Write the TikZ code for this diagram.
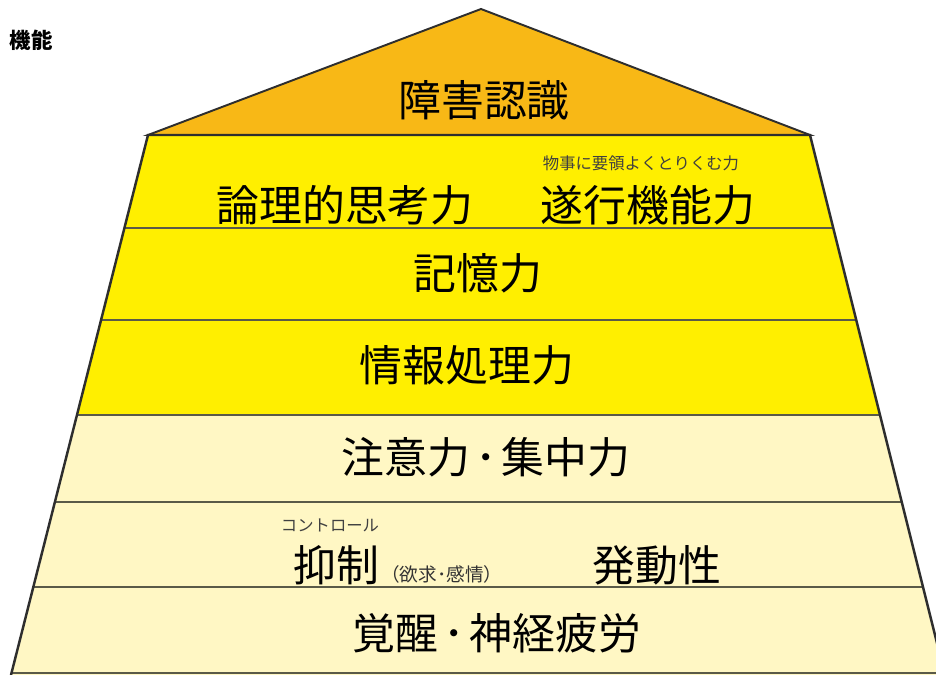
\documentclass[tikz,border=0pt]{standalone}
\usepackage{fontspec}
\setmainfont{Noto Sans CJK JP}
\usetikzlibrary{positioning}
\definecolor{roofcol}{HTML}{F8B816}
\definecolor{highcol}{HTML}{FFEF00}
\definecolor{lowcol}{HTML}{FFF7C4}
\definecolor{edgecol}{HTML}{2E2E2E}
\definecolor{linecol}{HTML}{5A5A48}
\newcommand{\middot}{\hspace{0.12em}･\hspace{0.12em}}
\begin{document}
\begin{tikzpicture}[x=0.02cm,y=-0.02cm]
  \tikzstyle{big}=[inner sep=0pt,font=\fontsize{24.4}{28}\selectfont]
  \tikzstyle{small}=[inner sep=0pt,font=\fontsize{9.3}{11}\selectfont,text=black!75]
  \tikzstyle{divider}=[draw=linecol,line width=1.1pt]
  \useasboundingbox (0,0) rectangle (936,675);
  \node[anchor=east,inner sep=0pt,font=\fontsize{12.2}{14}\selectfont\bfseries] (title) at (53,40) {機能};
  % roof
  \filldraw[fill=roofcol,draw=edgecol,line width=1.1pt] (148,135) -- (481,9) -- (810,135) -- cycle;
  % bands
  \begin{scope}
    \clip (148,135) -- (810,135) -- (945,675) -- (11,675) -- cycle;
    \fill[highcol] (0,135) rectangle (950,415);
    \fill[lowcol] (0,415) rectangle (950,680);
    \foreach \y in {228,320,415,502,587,673}
      \draw[divider] (0,\y) -- (950,\y);
  \end{scope}
  \draw[edgecol,line width=1.4pt] (11,675) -- (148,135) -- (810,135) -- (945,675);
  \node[big] (aware) at (484,100) {障害認識};
  \node[big] (logic) at (345,205) {論理的思考力};
  \node[big] (exec) at (648,205) {遂行機能力};
  \node[small] (execnote) at (641,163) {物事に要領よくとりくむ力};
  \node[big] (memory) at (478,273) {記憶力};
  \node[big] (info) at (467,365) {情報処理力};
  \node[big] (attn) at (486,457) {注意力\middot 集中力};
  \node[small] (ctrl) at (330,525) {コントロール};
  \node[big] (inhibit) at (336,565) {抑制};
  \node[inner sep=0pt,anchor=base west,font=\fontsize{10.6}{12}\selectfont,text=black!80] (inhibitnote) at ([xshift=1pt]inhibit.base east) {（欲求･感情）};
  \node[big] (drive) at (657,565) {発動性};
  \node[big] (arousal) at (497,633) {覚醒\middot 神経疲労};
\end{tikzpicture}
\end{document}
